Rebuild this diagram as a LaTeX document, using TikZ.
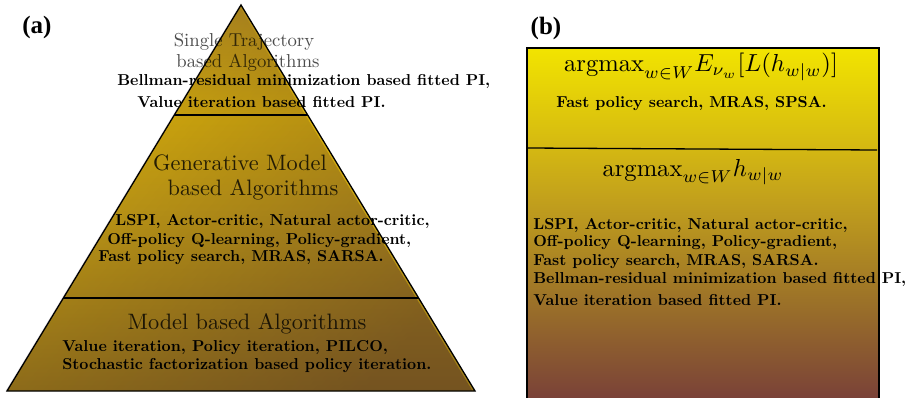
\documentclass[tikz,border=0pt]{standalone}
\usepackage{fontspec}
\newfontfamily\labfont{Liberation Serif}
\usetikzlibrary{calc,fadings}
\definecolor{pT}{HTML}{B08A1C}
\definecolor{pU}{HTML}{D8B00A}
\definecolor{pM}{HTML}{C8A212}
\definecolor{pB}{HTML}{9C7A16}
\definecolor{pDark}{HTML}{3A1A30}
\definecolor{bA}{HTML}{F2E400}
\definecolor{bB}{HTML}{D4B812}
\definecolor{bC}{HTML}{C2A01C}
\definecolor{bD}{HTML}{9C7228}
\definecolor{bE}{HTML}{7A4238}
\pgfdeclareverticalshading{pyrsh}{100bp}{color(0bp)=(pB); color(25bp)=(pB); color(48bp)=(pM); color(60bp)=(pU); color(75bp)=(pT); color(100bp)=(pT)}
\pgfdeclareverticalshading{boxsh}{100bp}{color(0bp)=(bE); color(25bp)=(bE); color(39bp)=(bD); color(53.3bp)=(bC); color(60.7bp)=(bB); color(75bp)=(bA); color(100bp)=(bA)}
\tikzfading[name=rdark, left color=transparent!100, middle color=transparent!100, right color=transparent!0]
\tikzset{
  ttl/.style={inner sep=0pt, text opacity=0.8, font=\normalsize, scale=2.23},
  ttlsm/.style={inner sep=0pt, text opacity=0.7, font=\normalsize, scale=1.87},
  bld/.style={inner sep=0pt, anchor=west, text=black, font=\normalsize\bfseries, scale=1.58, text height=6.8pt, text depth=1.9pt},
  mth/.style={inner sep=0pt, font=\normalsize, scale=2.46},
  lab/.style={inner sep=0pt, font=\fontsize{25}{28}\selectfont\labfont\bfseries},
  divline/.style={line width=1.3pt}
}
\begin{document}
\begin{tikzpicture}[x=1pt,y=-1pt]
\useasboundingbox (0,0) rectangle (912,398);
% ---------- (a) pyramid ----------
\coordinate (A) at (241,5);
\coordinate (L) at (7,391);
\coordinate (R) at (475,391);
\shade[shading=pyrsh] (A) -- (L) -- (R) -- cycle;
\fill[pDark, fill opacity=0.4, path fading=rdark, fading angle=-35] (A) -- (L) -- (R) -- cycle;
\draw[line width=1.3pt, line join=miter] (A) -- (L) -- (R) -- cycle;
\coordinate (u1) at ($(A)!0.285!(L)$);
\coordinate (u2) at ($(A)!0.285!(R)$);
\coordinate (m1) at ($(A)!0.759!(L)$);
\coordinate (m2) at ($(A)!0.759!(R)$);
\draw[divline] (u1) -- (u2);
\draw[divline] (m1) -- (m2);

\node[lab] (la) at (37,27) {(a)};
\node[ttlsm] (st1) at (244,42) {Single Trajectory};
\node[ttlsm] (st2) at (248,63) {based Algorithms};
\node[bld] (s1) at (117,82) {Bellman-residual minimization based fitted PI,};
\node[bld] (s2) at (137,104) {Value iteration based fitted PI.};

\node[ttl] (g1) at (240,163) {Generative Model};
\node[ttl] (g2) at (253,190) {based Algorithms};
\node[bld] (gl1) at (115,222) {LSPI, Actor-critic, Natural actor-critic,};
\node[bld] (gl2) at (107,241) {Off-policy Q-learning, Policy-gradient,};
\node[bld] (gl3) at (98,258) {Fast policy search, MRAS, SARSA.};

\node[ttl] (mb) at (247,324) {Model based Algorithms};
\node[bld] (ml1) at (62,348) {Value iteration, Policy iteration, PILCO,};
\node[bld] (ml2) at (62,366) {Stochastic factorization based policy iteration.};

% ---------- (b) box ----------
\shade[shading=boxsh] (527,48) rectangle (879,398);
\draw[line width=1.3pt] (527,398) -- (527,48) -- (879,48) -- (879,398);
\coordinate (d1) at (527,148);
\coordinate (d2) at (877,150);
\draw[divline] (d1) -- (d2);

\node[lab] (lb) at (546,28) {(b)};
\node[mth] (f1) at (701,67) {$\mathrm{argmax}_{w\in W}E_{\nu_w}[L(h_{w|w})]$};
\node[bld] (fl1) at (556,104) {Fast policy search, MRAS, SPSA.};
\node[mth] (f2) at (693,172) {$\mathrm{argmax}_{w\in W}h_{w|w}$};
\node[bld] (r1) at (533,226) {LSPI, Actor-critic, Natural actor-critic,};
\node[bld] (r2) at (533,243) {Off-policy Q-learning, Policy-gradient,};
\node[bld] (r3) at (533,262) {Fast policy search, MRAS, SARSA.};
\node[bld] (r4) at (533,280) {Bellman-residual minimization based fitted PI,};
\node[bld] (r5) at (533,302) {Value iteration based fitted PI.};
\end{tikzpicture}
\end{document}
